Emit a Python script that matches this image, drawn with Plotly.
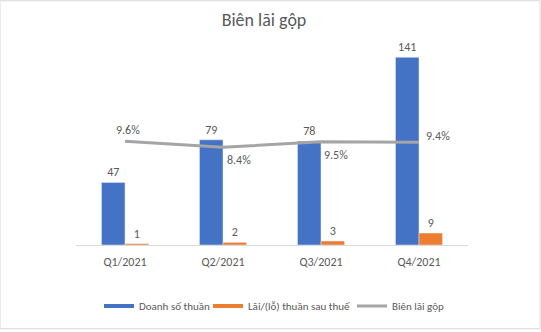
import plotly.graph_objects as go

categories = ["Q1/2021", "Q2/2021", "Q3/2021", "Q4/2021"]
revenue = [47, 79, 78, 141]
profit = [1, 2, 3, 9]
margin = [0.096, 0.084, 0.095, 0.094]

series_names = ["Doanh số thuần", "Lãi/(lỗ) thuần sau thuế", "Biên lãi gộp"]
title_text = "Biên lãi gộp"

BLUE = "#4472C4"
ORANGE = "#ED7D31"
GRAY = "#A5A5A5"
TXT = "#595959"
FONT = "Calibri, Carlito, Lato, sans-serif"

fig = go.Figure()

fig.add_trace(go.Bar(
    x=categories, y=revenue, name=series_names[0], marker_color=BLUE,
    text=[str(v) for v in revenue], textposition="outside",
    textfont=dict(color=TXT, size=12, family=FONT), cliponaxis=False,
    showlegend=False,
))
fig.add_trace(go.Bar(
    x=categories, y=profit, name=series_names[1], marker_color=ORANGE,
    text=[str(v) for v in profit], textposition="outside",
    textfont=dict(color=TXT, size=12, family=FONT), cliponaxis=False,
    showlegend=False,
))
# legend proxies (wide flat swatches like the original), one legend each
fig.add_trace(go.Scatter(x=[categories[0]], y=[None], mode="lines", name=series_names[0],
                         line=dict(color=BLUE, width=4), hoverinfo="skip", legend="legend"))
fig.add_trace(go.Scatter(x=[categories[0]], y=[None], mode="lines", name=series_names[1],
                         line=dict(color=ORANGE, width=4), hoverinfo="skip", legend="legend2"))
fig.add_trace(go.Scatter(
    x=categories, y=margin, name=series_names[2], mode="lines",
    line=dict(color=GRAY, width=3), yaxis="y2", cliponaxis=False, legend="legend3",
))

# line labels
shifts = [(3, 11), (16, -13), (15, -13), (19, 6)]
for c, m, (dx, dy) in zip(categories, margin, shifts):
    fig.add_annotation(x=c, y=m, yref="y2", text=f"{m*100:.1f}%", showarrow=False,
                       xshift=dx, yshift=dy, font=dict(color=TXT, size=12, family=FONT))

def leg(px):
    return dict(orientation="h", x=(px - 76) / 392, xanchor="left", y=-0.286,
                yanchor="middle", font=dict(size=11, color=TXT, family=FONT),
                bgcolor="rgba(0,0,0,0)", borderwidth=0)

fig.update_layout(
    width=541, height=332,
    margin=dict(l=76, r=73, t=32, b=85),
    paper_bgcolor="white", plot_bgcolor="white",
    barmode="group", bargap=0.52, bargroupgap=0,
    font=dict(family=FONT, color=TXT, size=12),
    title=dict(text=title_text, x=0.488, xanchor="center", y=0.94, yanchor="middle",
               font=dict(size=18, color=TXT, family=FONT, weight=300)),
    xaxis=dict(showline=True, linecolor="#D9D9D9", linewidth=1, ticks="",
               tickfont=dict(size=12, color=TXT), showgrid=False, ticklabelstandoff=6),
    yaxis=dict(range=[0, 160], visible=False, showgrid=False, zeroline=False),
    yaxis2=dict(range=[-0.1128, 0.3162], overlaying="y", visible=False,
                showgrid=False, zeroline=False),
    legend=leg(99),
    legend2=leg(208),
    legend3=leg(352),
    showlegend=True,
)

# thin light border round the whole picture
fig.add_shape(type="rect", xref="paper", yref="paper",
              x0=-76/392, x1=1 + 72/392, y0=-84.5/215, y1=1 + 31.5/215,
              line=dict(color="#D9D9D9", width=1), fillcolor="rgba(0,0,0,0)", layer="below")

fig.write_html("out.html")
